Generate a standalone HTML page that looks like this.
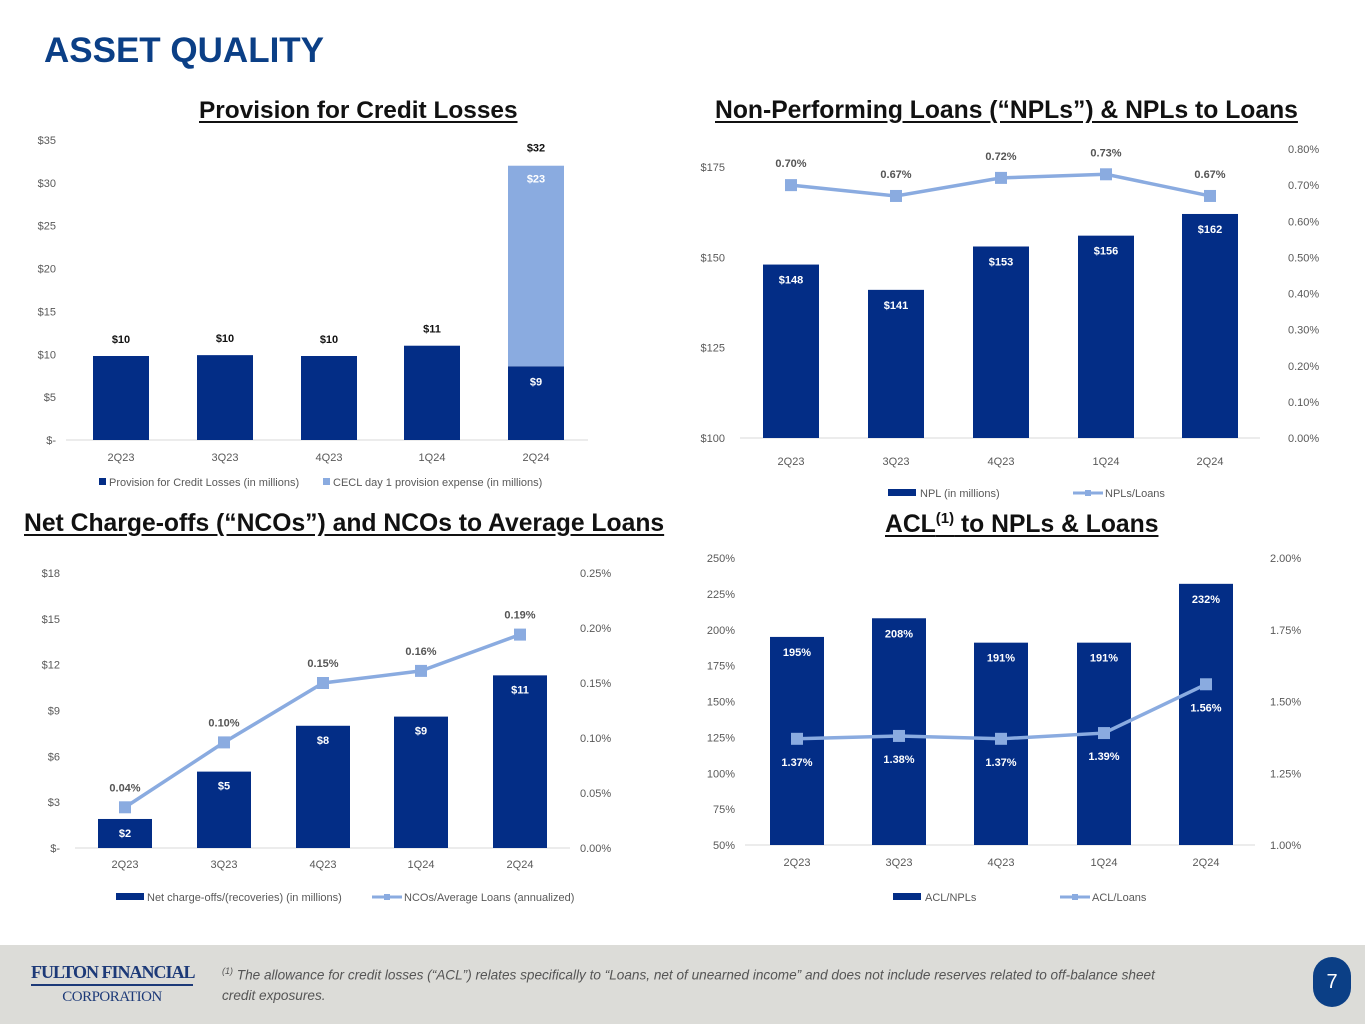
<!DOCTYPE html>
<html><head><meta charset="utf-8">
<style>
body{margin:0;width:1365px;height:1024px;background:#fff;position:relative;overflow:hidden;font-family:"Liberation Sans",sans-serif}
.h{position:absolute;font-weight:bold;text-decoration:underline;font-size:24.7px;color:#111;white-space:nowrap;text-underline-offset:3px}
svg{position:absolute;left:0;top:0}
</style></head>
<body>
<div style="position:absolute;left:44px;top:31px;font-size:35px;font-weight:bold;color:#0b3f86">ASSET QUALITY</div>
<div class="h" style="left:199px;top:97px;font-size:24.4px">Provision for Credit Losses</div>
<div class="h" style="left:715px;top:97px">Non-Performing Loans (“NPLs”) &amp; NPLs to Loans</div>
<div class="h" style="left:24px;top:510px">Net Charge-offs (“NCOs”) and NCOs to Average Loans</div>
<div class="h" style="left:885px;top:510px">ACL<sup style="font-size:15px">(1)</sup> to NPLs &amp; Loans</div>
<svg id="s" width="1365" height="1024"></svg>
<div style="position:absolute;left:0;top:945px;width:1365px;height:79px;background:#dcdcd8"></div>
<div style="position:absolute;left:31px;top:960px;width:162px;text-align:center;font-family:'Liberation Serif',serif;color:#1d3a78;white-space:nowrap">
<div style="font-size:18px;letter-spacing:-1px;border-bottom:2px solid #1d3a78;line-height:24px;font-weight:bold">FULTON FINANCIAL</div>
<div style="font-size:15px;line-height:22px;letter-spacing:-0.5px">CORPORATION</div></div>
<div style="position:absolute;left:222px;top:961px;width:1010px;font-size:13.6px;font-style:italic;color:#555;line-height:20px"><sup style="font-size:9px">(1)</sup> The allowance for credit losses (“ACL”) relates specifically to “Loans, net of unearned income” and does not include reserves related to off-balance sheet<br>credit exposures.</div>
<div style="position:absolute;left:1313px;top:957px;width:38px;height:50px;border-radius:19px;background:#0b3f86;color:#fff;font-size:20px;text-align:center;line-height:50px">7</div>
<script>
const cats=["2Q23","3Q23","4Q23","1Q24","2Q24"];
const provVals=[9.8,9.9,9.8,11,8.6];
const ceclVals=[0,0,0,0,23.4];
const provLabels=["$10","$10","$10","$11","$9"];
const provTicks=["$-","$5","$10","$15","$20","$25","$30","$35"];
const nplVals=[148,141,153,156,162];
const nplRatio=[0.70,0.67,0.72,0.73,0.67];
const nplTicks=["$100","$125","$150","$175"];
const nplRTicks=["0.00%","0.10%","0.20%","0.30%","0.40%","0.50%","0.60%","0.70%","0.80%"];
const ncoVals=[1.9,5.0,8.0,8.6,11.3];
const ncoLabels=["$2","$5","$8","$9","$11"];
const ncoRatio=[0.037,0.096,0.15,0.161,0.194];
const ncoTicks=["$-","$3","$6","$9","$12","$15","$18"];
const ncoRTicks=["0.00%","0.05%","0.10%","0.15%","0.20%","0.25%"];
const aclNpl=[195,208,191,191,232];
const aclLoans=[1.37,1.38,1.37,1.39,1.56];
const aclTicks=["50%","75%","100%","125%","150%","175%","200%","225%","250%"];
const aclRTicks=["1.00%","1.25%","1.50%","1.75%","2.00%"];

const S=document.getElementById('s');const NS="http://www.w3.org/2000/svg";
const DARK="#032d86",LIGHT="#8aabe0";
function el(t,a,txt){const e=document.createElementNS(NS,t);for(const k in a)e.setAttribute(k,a[k]);if(txt!==undefined)e.textContent=txt;S.appendChild(e);return e;}
function txt(x,y,s,o){o=o||{};const e=el('text',{x:x,y:y,'font-size':o.fs||11,'text-anchor':o.a||'middle','font-weight':o.b?'bold':'normal',fill:o.c||'#595959','font-family':'Liberation Sans, sans-serif'},s);return e;}
function scale(d0,d1,p0,p1){return v=>p0+(v-d0)/(d1-d0)*(p1-p0);}

// Chart 1
(function(){const y=scale(0,35,440,140);const xs=[121,225,329,432,536];
provTicks.forEach((t,i)=>{const e=txt(56,y(i*5)+4,t,{a:'end'});});
el('line',{x1:66,x2:588,y1:440,y2:440,stroke:'#d9d9d9'});
cats.forEach((c,i)=>{const x=xs[i];
const r=el('rect',{x:x-28,y:y(provVals[i]),width:56,height:440-y(provVals[i]),fill:DARK});

if(ceclVals[i]>0){const r2=el('rect',{x:x-28,y:y(provVals[i]+ceclVals[i]),width:56,height:y(provVals[i])-y(provVals[i]+ceclVals[i]),fill:LIGHT});

txt(x,y(provVals[i])+19,provLabels[i],{b:1,c:'#fff'});
txt(x,y(provVals[i]+ceclVals[i])+17,'$'+Math.round(ceclVals[i]),{b:1,c:'#fff'});
txt(x,y(provVals[i]+ceclVals[i])-14,'$'+Math.round(provVals[i]+ceclVals[i]),{b:1,c:'#111'});
}else txt(x,y(provVals[i])-13,provLabels[i],{b:1,c:'#111'});
txt(x,461,c);});
el('rect',{x:99,y:478,width:7,height:7,fill:DARK});txt(109,486,'Provision for Credit Losses (in millions)',{a:'start'});
el('rect',{x:323,y:478,width:7,height:7,fill:LIGHT});txt(333,486,'CECL day 1 provision expense (in millions)',{a:'start'});
})();

// Chart 2
(function(){const y=scale(100,175,438,167),yr=scale(0,0.8,438,149);const xs=[791,896,1001,1106,1210];
nplTicks.forEach((t,i)=>txt(725,y(100+i*25)+4,t,{a:'end'}));
nplRTicks.forEach((t,i)=>txt(1288,yr(i*0.1)+4,t,{a:'start'}));
el('line',{x1:740,x2:1260,y1:438,y2:438,stroke:'#d9d9d9'});
cats.forEach((c,i)=>{const x=xs[i];
const r=el('rect',{x:x-28,y:y(nplVals[i]),width:56,height:438-y(nplVals[i]),fill:DARK});

txt(x,y(nplVals[i])+19,'$'+nplVals[i],{b:1,c:'#fff'});txt(x,465,c);});
el('polyline',{points:nplRatio.map((v,i)=>xs[i]+','+yr(v)).join(' '),fill:'none',stroke:LIGHT,'stroke-width':3.5});
nplRatio.forEach((v,i)=>{const m=el('rect',{x:xs[i]-6,y:yr(v)-6,width:12,height:12,fill:LIGHT});

txt(xs[i],yr(v)-18,v.toFixed(2)+'%',{b:1,c:'#555'});});
el('rect',{x:888,y:489,width:28,height:7,fill:DARK});txt(920,497,'NPL (in millions)',{a:'start'});
el('line',{x1:1073,x2:1103,y1:493,y2:493,stroke:LIGHT,'stroke-width':3});el('rect',{x:1085,y:490,width:6,height:6,fill:LIGHT});
txt(1105,497,'NPLs/Loans',{a:'start'});
})();

// Chart 3
(function(){const y=scale(0,18,848,573),yr=scale(0,0.25,848,573);const xs=[125,224,323,421,520];
ncoTicks.forEach((t,i)=>txt(60,y(i*3)+4,t,{a:'end'}));
ncoRTicks.forEach((t,i)=>txt(580,yr(i*0.05)+4,t,{a:'start'}));
el('line',{x1:75,x2:570,y1:848,y2:848,stroke:'#d9d9d9'});
cats.forEach((c,i)=>{const x=xs[i];
const r=el('rect',{x:x-27,y:y(ncoVals[i]),width:54,height:848-y(ncoVals[i]),fill:DARK});

txt(x,y(ncoVals[i])+18,ncoLabels[i],{b:1,c:'#fff'});txt(x,868,c);});
el('polyline',{points:ncoRatio.map((v,i)=>xs[i]+','+yr(v)).join(' '),fill:'none',stroke:LIGHT,'stroke-width':3.5});
ncoRatio.forEach((v,i)=>{const m=el('rect',{x:xs[i]-6,y:yr(v)-6,width:12,height:12,fill:LIGHT});

txt(xs[i],yr(v)-16,v.toFixed(2)+'%',{b:1,c:'#555'});});
el('rect',{x:116,y:893,width:28,height:7,fill:DARK});txt(147,901,'Net charge-offs/(recoveries) (in millions)',{a:'start'});
el('line',{x1:372,x2:402,y1:897,y2:897,stroke:LIGHT,'stroke-width':3});el('rect',{x:384,y:894,width:6,height:6,fill:LIGHT});
txt(404,901,'NCOs/Average Loans (annualized)',{a:'start'});
})();

// Chart 4
(function(){const y=scale(50,250,845,558),yr=scale(1,2,845,558);const xs=[797,899,1001,1104,1206];
aclTicks.forEach((t,i)=>txt(735,y(50+i*25)+4,t,{a:'end'}));
aclRTicks.forEach((t,i)=>txt(1270,yr(1+i*0.25)+4,t,{a:'start'}));
el('line',{x1:745,x2:1255,y1:845,y2:845,stroke:'#d9d9d9'});
cats.forEach((c,i)=>{const x=xs[i];
const r=el('rect',{x:x-27,y:y(aclNpl[i]),width:54,height:845-y(aclNpl[i]),fill:DARK});

txt(x,y(aclNpl[i])+19,aclNpl[i]+'%',{b:1,c:'#fff'});txt(x,866,c);});
el('polyline',{points:aclLoans.map((v,i)=>xs[i]+','+yr(v)).join(' '),fill:'none',stroke:LIGHT,'stroke-width':3.5});
aclLoans.forEach((v,i)=>{const m=el('rect',{x:xs[i]-6,y:yr(v)-6,width:12,height:12,fill:LIGHT});

txt(xs[i],yr(v)+27,v.toFixed(2)+'%',{b:1,c:'#fff'});});
el('rect',{x:893,y:893,width:28,height:7,fill:DARK});txt(925,901,'ACL/NPLs',{a:'start'});
el('line',{x1:1060,x2:1090,y1:897,y2:897,stroke:LIGHT,'stroke-width':3});el('rect',{x:1072,y:894,width:6,height:6,fill:LIGHT});
txt(1092,901,'ACL/Loans',{a:'start'});
})();
</script>
</body></html>
